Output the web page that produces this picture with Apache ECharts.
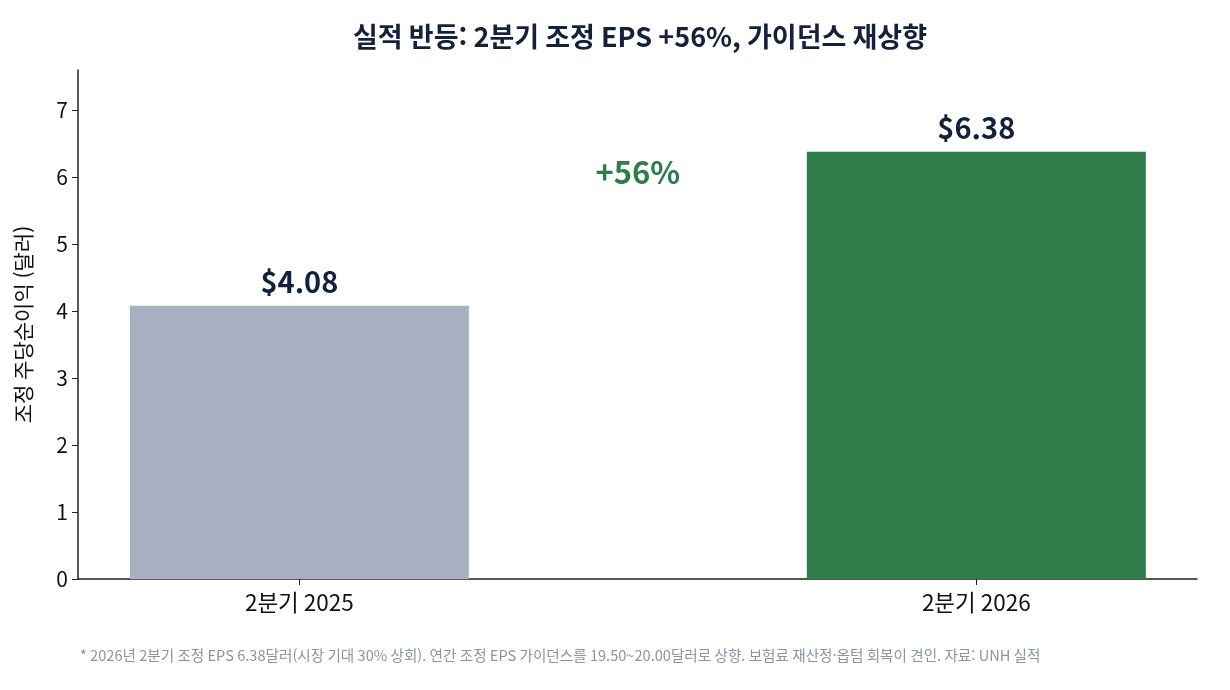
<!DOCTYPE html>
<html lang="ko">
<head>
<meta charset="utf-8">
<script src="https://cdn.jsdelivr.net/npm/echarts@6/dist/echarts.min.js"></script>
</head>
<body style="margin:0">
<div id="main" style="width:1230px;height:690px"></div>
<script>
var categories = ['2분기 2025', '2분기 2026'];
var epsValues = [4.08, 6.38];
var barColors = ['#a8b1c2', '#2e7d4a'];
var changeLabel = '+56%';
var changePos = [0.5, 6.07];
var yTicks = [0, 1, 2, 3, 4, 5, 6, 7];

var font = '"Noto Sans CJK KR", "Noto Sans", sans-serif';
var navy = '#14213d';

var chart = echarts.init(document.getElementById('main'));
chart.setOption({
  textStyle: { fontFamily: font },
  title: {
    text: '실적 반등: 2분기 조정 EPS +56%, 가이던스 재상향',
    left: 635, top: 18, textAlign: 'center',
    textStyle: { fontFamily: font, fontSize: 27, fontWeight: 'bold', color: navy }
  },
  graphic: [{
    type: 'text', left: 80, top: 648,
    style: {
      text: '* 2026년 2분기 조정 EPS 6.38달러(시장 기대 30% 상회). 연간 조정 EPS 가이던스를 19.50~20.00달러로 상향. 보험료 재산정·옵텀 회복이 견인. 자료: UNH 실적',
      font: '14.6px ' + font, fill: '#8a94a6'
    }
  }],
  grid: { left: 78, right: 33, top: 70, bottom: 111, containLabel: false },
  xAxis: {
    type: 'value', min: -0.327, max: 1.326,
    splitLine: { show: false },
    axisLine: { show: true, onZero: false, lineStyle: { color: '#222', width: 1.5 } },
    axisTick: { show: true, customValues: [0, 1], length: 6, lineStyle: { color: '#222' } },
    axisLabel: {
      customValues: [0, 1], fontSize: 22.5, color: '#111', margin: 12,
      formatter: function (v) { return categories[Math.round(v)]; }
    }
  },
  yAxis: {
    type: 'value', min: 0, max: 7.6,
    name: '조정 주당순이익 (달러)', nameLocation: 'middle', nameGap: 44,
    nameTextStyle: { fontSize: 21, color: '#111', fontFamily: font },
    splitLine: { show: false },
    axisLine: { show: true, onZero: false, lineStyle: { color: '#222', width: 1.5 } },
    axisTick: { show: true, customValues: yTicks, length: 6, lineStyle: { color: '#222' } },
    axisLabel: { customValues: yTicks, fontSize: 21, color: '#111', margin: 10 }
  },
  series: [{
    type: 'bar',
    barWidth: 339,
    data: epsValues.map(function (v, i) {
      return { value: [i, v], itemStyle: { color: barColors[i] } };
    }),
    label: {
      show: true, position: 'top', distance: 9,
      fontSize: 29, fontWeight: 'bold', color: navy, fontFamily: font,
      formatter: function (p) { return '$' + p.value[1].toFixed(2); }
    }
  }, {
    type: 'scatter',
    symbolSize: 0,
    itemStyle: { opacity: 1 },
    data: [changePos],
    label: {
      show: true, position: 'inside', opacity: 1,
      fontSize: 31, fontWeight: 'bold', color: '#2e7d4a', fontFamily: font,
      formatter: changeLabel
    }
  }]
});
</script>
</body>
</html>
